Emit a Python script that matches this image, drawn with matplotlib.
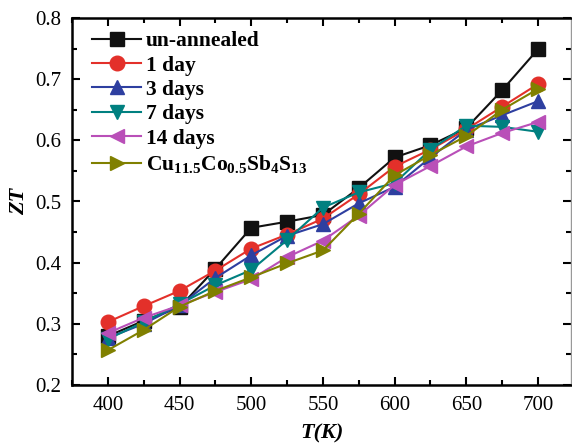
import matplotlib
matplotlib.use("Agg")
import matplotlib.pyplot as plt
from matplotlib.ticker import MultipleLocator

plt.rcParams.update({
    "font.family": "serif",
    "font.serif": ["Liberation Serif", "DejaVu Serif"],
    "mathtext.fontset": "custom",
    "mathtext.rm": "Liberation Serif:bold",
    "mathtext.it": "Liberation Serif:bold:italic",
    "mathtext.bf": "Liberation Serif:bold",
})

T = [400, 425, 450, 475, 500, 525, 550, 575, 600, 625, 650, 675, 700]
zt_unannealed = [0.280, 0.305, 0.327, 0.390, 0.457, 0.467, 0.478, 0.522, 0.572, 0.592, 0.620, 0.682, 0.749]
zt_1day = [0.303, 0.329, 0.354, 0.387, 0.423, 0.446, 0.472, 0.512, 0.557, 0.585, 0.618, 0.655, 0.692]
zt_3days = [0.277, 0.300, 0.330, 0.375, 0.412, 0.444, 0.463, 0.497, 0.524, 0.572, 0.617, 0.641, 0.664]
zt_7days = [0.275, 0.303, 0.332, 0.363, 0.388, 0.437, 0.490, 0.515, 0.530, 0.585, 0.624, 0.622, 0.614]
zt_14days = [0.285, 0.310, 0.330, 0.352, 0.373, 0.409, 0.436, 0.477, 0.527, 0.558, 0.590, 0.612, 0.630]
zt_co = [0.257, 0.290, 0.328, 0.354, 0.376, 0.399, 0.420, 0.480, 0.543, 0.576, 0.607, 0.650, 0.684]

labels = ["un-annealed", "1 day", "3 days", "7 days", "14 days",
          r"Cu$_{11.5}$Co$_{0.5}$Sb$_{4}$S$_{13}$"]
series = [zt_unannealed, zt_1day, zt_3days, zt_7days, zt_14days, zt_co]
colors = ["#111111", "#E3302A", "#2E3FA0", "#008080", "#B94FB8", "#808000"]
markers = ["s", "o", "^", "v", "<", ">"]

fig = plt.figure(figsize=(5.72, 4.44), dpi=100)
ax = fig.add_axes([72 / 572, 59 / 444, 499 / 572, 367 / 444])

for y, lab, c, m in zip(series, labels, colors, markers):
    ax.plot(T, y, color=c, marker=m, markersize=10.5, linewidth=1.5,
            markeredgecolor=c, label=lab)

ax.set_xlim(375, 723)
ax.set_ylim(0.2, 0.8)
ax.xaxis.set_major_locator(MultipleLocator(50))
ax.xaxis.set_minor_locator(MultipleLocator(25))
ax.yaxis.set_major_locator(MultipleLocator(0.1))
ax.yaxis.set_minor_locator(MultipleLocator(0.05))
ax.tick_params(which="both", direction="in", top=True, right=True, width=1.5,
               labelsize=15, pad=8)
ax.tick_params(which="major", length=6)
ax.tick_params(which="minor", length=3.5)
for side in ["left", "bottom", "top"]:
    ax.spines[side].set_linewidth(1.8)
ax.spines["right"].set_linewidth(1.0)
ax.spines["right"].set_color("#999999")

ax.set_xlabel("T(K)", fontsize=16, fontweight="bold", style="italic", labelpad=6)
ax.set_ylabel("ZT", fontsize=16, fontweight="bold", style="italic", labelpad=4)

ax.legend(loc="upper left", bbox_to_anchor=(0.04, 0.964), frameon=False,
          prop={"weight": "bold", "size": 15.5},
          handlelength=2.3, handletextpad=0.2, labelspacing=0.2,
          borderaxespad=0, borderpad=0)

fig.savefig("out.png", dpi=100)
